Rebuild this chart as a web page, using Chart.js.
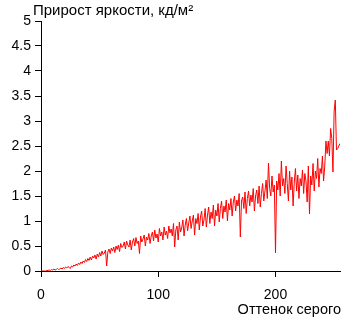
<!DOCTYPE html>
<html>
<head>
<meta charset="utf-8">
<script src="https://cdn.jsdelivr.net/npm/chart.js@4"></script>
<style>
  body { margin: 0; background: #fff; }
  #wrap { width: 350px; height: 320px; }
</style>
</head>
<body>
<div id="wrap"><canvas id="myChart"></canvas></div>
<script>
const yValues = [
  0, 0, 0, 0, 0, 0.01, 0.01, 0.02, 0.01, 0.03, 0.02, 0.04, 0.02, 0.03, 0.05, 0.03,
  0.04, 0.06, 0.04, 0.07, 0.05, 0.08, 0.06, 0.09, 0.07, 0.05, 0.1, 0.08, 0.12, 0.1, 0.14, 0.11,
  0.16, 0.13, 0.18, 0.15, 0.2, 0.17, 0.23, 0.19, 0.25, 0.21, 0.28, 0.22, 0.3, 0.26, 0.32, 0.24,
  0.34, 0.28, 0.37, 0.3, 0.4, 0.33, 0.36, 0.42, 0.1, 0.38, 0.44, 0.35, 0.46, 0.4, 0.48, 0.37,
  0.5, 0.43, 0.52, 0.39, 0.55, 0.47, 0.5, 0.58, 0.44, 0.6, 0.52, 0.48, 0.62, 0.42, 0.58, 0.65,
  0.5, 0.67, 0.55, 0.6, 0.35, 0.7, 0.58, 0.64, 0.72, 0.5, 0.68, 0.62, 0.75, 0.55, 0.7, 0.78,
  0.6, 0.82, 0.66, 0.74, 0.58, 0.85, 0.7, 0.78, 0.62, 0.88, 0.72, 0.8, 0.65, 0.9, 0.76, 0.84,
  0.7, 0.95, 0.48, 0.82, 0.9, 0.62, 0.98, 0.78, 0.86, 1.02, 0.7, 0.92, 1.05, 0.8, 0.96, 1.1,
  0.85, 1.0, 1.12, 0.72, 1.05, 0.95, 1.15, 0.82, 1.08, 1.2, 0.9, 1.02, 1.25, 0.88, 1.12, 1.28,
  0.95, 1.18, 1.05, 1.32, 0.9, 1.22, 1.1, 1.35, 0.98, 1.25, 1.4, 1.05, 1.3, 1.18, 1.42, 1.0,
  1.35, 1.22, 1.45, 1.1, 1.38, 1.5, 1.2, 1.42, 1.3, 1.55, 0.68, 1.4, 1.48, 1.25, 1.58, 1.15,
  1.45, 1.6, 1.3, 1.52, 1.38, 1.65, 1.2, 1.5, 1.62, 1.35, 1.7, 1.28, 1.55, 1.75, 1.4, 1.6,
  1.82, 1.45, 2.16, 1.65, 1.5, 1.9, 1.58, 1.72, 0.36, 1.8, 1.62, 1.95, 1.5, 2.2, 1.7, 1.85,
  1.55, 2.1, 1.75, 1.4, 2.0, 1.62, 1.88, 1.3, 1.78, 2.05, 1.6, 1.92, 1.45, 1.85, 1.7, 2.02,
  1.55, 1.95, 1.8, 1.38, 2.1, 1.14, 1.9, 1.72, 2.15, 1.6, 2.0, 1.85, 2.25, 1.68, 2.05, 1.95,
  2.3, 1.8, 2.1, 2.6, 2.35, 2.6, 2.3, 2.85, 2.65, 1.98, 3.2, 3.42, 2.42, 2.45, 2.5, 2.55,
];
const xValues = yValues.map((v, i) => i);
const yTicks = [0, 0.5, 1, 1.5, 2, 2.5, 3, 3.5, 4, 4.5, 5];
const xTicks = [0, 100, 200];
const yTitle = "Прирост яркости, кд/м²";
const xTitle = "Оттенок серого";

const font = { family: "Liberation Sans, Arial", size: 14 };

const titles = {
  id: "titles",
  afterDraw(chart) {
    const ctx = chart.ctx;
    ctx.save();
    ctx.fillStyle = "#000";
    ctx.textBaseline = "alphabetic";
    ctx.font = "15px Liberation Sans, Arial";
    ctx.textAlign = "left";
    ctx.fillText(yTitle, 33, 15);
    ctx.font = "14.5px Liberation Sans, Arial";
    ctx.textAlign = "right";
    ctx.fillText(xTitle, 341, 314);
    ctx.restore();
  },
};

new Chart("myChart", {
  type: "line",
  data: {
    datasets: [
      {
        data: xValues.map((x, i) => ({ x: x, y: yValues[i] })),
        borderColor: "#ff0000",
        borderWidth: 1,
        pointRadius: 0,
        tension: 0,
        fill: false,
      },
    ],
  },
  options: {
    responsive: true,
    maintainAspectRatio: false,
    animation: false,
    layout: { padding: { left: 0, right: 10, top: 21, bottom: 0 } },
    plugins: { legend: { display: false }, tooltip: { enabled: false } },
    scales: {
      x: {
        type: "linear",
        min: 0,
        max: 255,
        afterBuildTicks: (s) => { s.ticks = xTicks.map((v) => ({ value: v })); },
        afterFit: (s) => { s.height = 49; },
        grid: { drawOnChartArea: false, color: "#000", tickLength: 6 },
        border: { color: "#000", width: 1 },
        ticks: { color: "#000", font: font, padding: 10, maxRotation: 0 },
      },
      y: {
        min: 0,
        max: 5,
        afterBuildTicks: (s) => { s.ticks = yTicks.map((v) => ({ value: v })); },
        afterFit: (s) => { s.width = 41; },
        grid: { drawOnChartArea: false, color: "#000", tickLength: 6 },
        border: { color: "#000", width: 1 },
        ticks: { color: "#000", font: font, padding: 4, callback: (v) => String(v) },
      },
    },
  },
  plugins: [titles],
});
</script>
</body>
</html>
